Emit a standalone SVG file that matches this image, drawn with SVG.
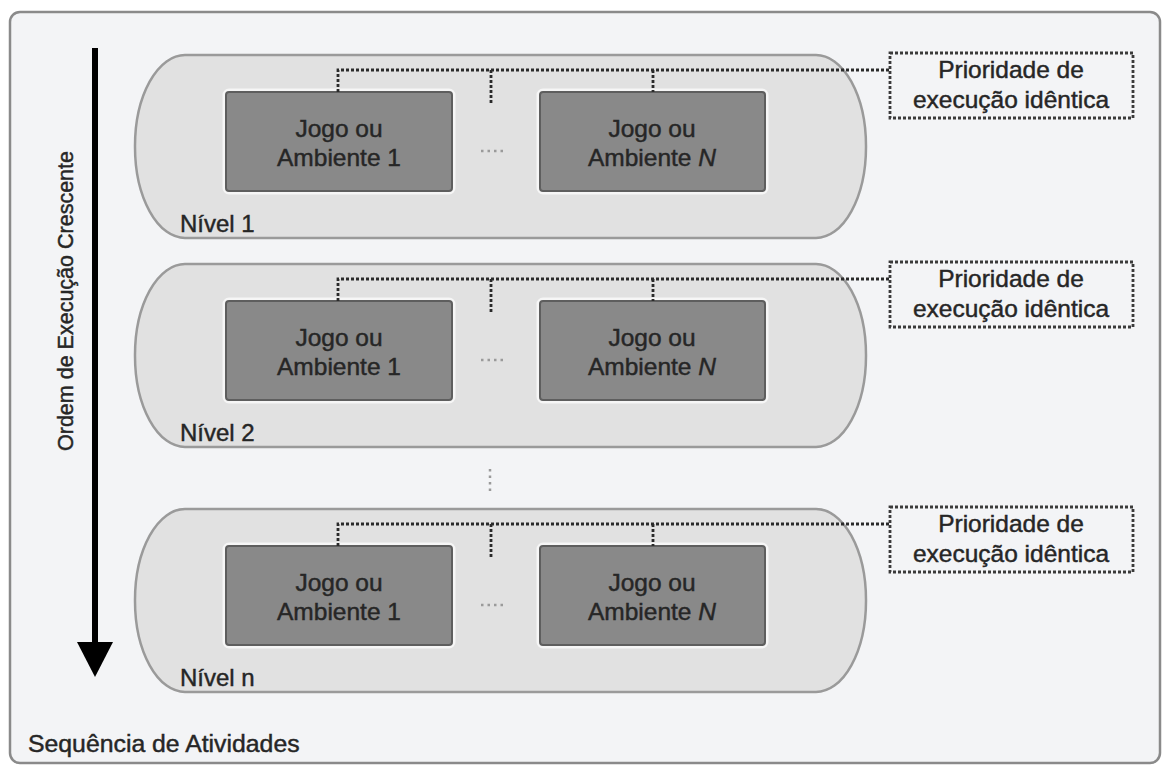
<svg xmlns="http://www.w3.org/2000/svg" width="1163" height="765" viewBox="0 0 1163 765">
<style>
text{font-family:"Liberation Sans",Arial,sans-serif;fill:#262626;stroke:#262626;stroke-width:0.45}
.frame{fill:#f3f4f6;stroke:#8a8a8a;stroke-width:2.5}
.pill{fill:#e1e1e1;stroke:#9a9a9a;stroke-width:2.5}
.halo{fill:none;stroke:#f6f6f6;stroke-width:7}
.box{fill:#898989;stroke:#5e5e5e;stroke-width:2}
.dot{fill:none;stroke:#2a2a2a;stroke-width:2.8;stroke-dasharray:3 2}
.pri{fill:none;stroke:#3a3a3a;stroke-width:2.8;stroke-dasharray:3 2}
.t{font-size:24.5px;text-anchor:middle}
.lbl{font-size:24px}
.seq{font-size:24.8px}
.ell{fill:none;stroke:#9a9a9a;stroke-width:2.5;stroke-dasharray:2.5 4}
</style>
<defs>
<g id="lvl">
<rect class="pill" x="0" y="0" width="731" height="183" rx="50" ry="91"/>
<rect class="halo" x="91" y="37" width="226" height="99" rx="3"/>
<rect class="halo" x="405" y="37" width="225" height="99" rx="3"/>
<rect class="box" x="91" y="37" width="226" height="99" rx="3"/>
<rect class="box" x="405" y="37" width="225" height="99" rx="3"/>
<text class="t" x="204" y="82">Jogo ou</text>
<text class="t" x="517" y="82">Jogo ou</text>
<path class="ell" d="M346,96 H370"/>
<path class="dot" d="M203,37 V15 H755 M356,15 V48 M518,15 V37"/>
<rect class="pri" x="755" y="-2" width="243" height="65"/>
<text class="t" x="876" y="23">Prioridade de</text>
<text class="t" x="876" y="53">execução idêntica</text>
</g>
</defs>
<rect class="frame" x="10" y="12" width="1150" height="751" rx="10"/>
<g id="arrow">
<line x1="95" y1="48" x2="95" y2="645" stroke="#000" stroke-width="6"/>
<polygon points="77,642 113,642 95,677" fill="#000"/>
<text transform="translate(73,301) rotate(-90)" text-anchor="middle" font-size="21.5">Ordem de Execução Crescente</text>
</g>
<g id="nivel1" transform="translate(135,55)">
<use href="#lvl"/>
<text class="t" x="204" y="111">Ambiente 1</text>
<text class="t" x="517" y="111">Ambiente <tspan font-style="italic">N</tspan></text>
<text class="lbl" x="45" y="177">Nível 1</text>
</g>
<g id="nivel2" transform="translate(135,264)">
<use href="#lvl"/>
<text class="t" x="204" y="111">Ambiente 1</text>
<text class="t" x="517" y="111">Ambiente <tspan font-style="italic">N</tspan></text>
<text class="lbl" x="45" y="177">Nível 2</text>
</g>
<g id="niveln" transform="translate(135,509)">
<use href="#lvl"/>
<text class="t" x="204" y="111">Ambiente 1</text>
<text class="t" x="517" y="111">Ambiente <tspan font-style="italic">N</tspan></text>
<text class="lbl" x="45" y="177">Nível n</text>
</g>
<g id="connectors">
<path class="ell" d="M490,469 V492"/>
</g>
<text class="seq" x="28" y="752">Sequência de Atividades</text>
</svg>
